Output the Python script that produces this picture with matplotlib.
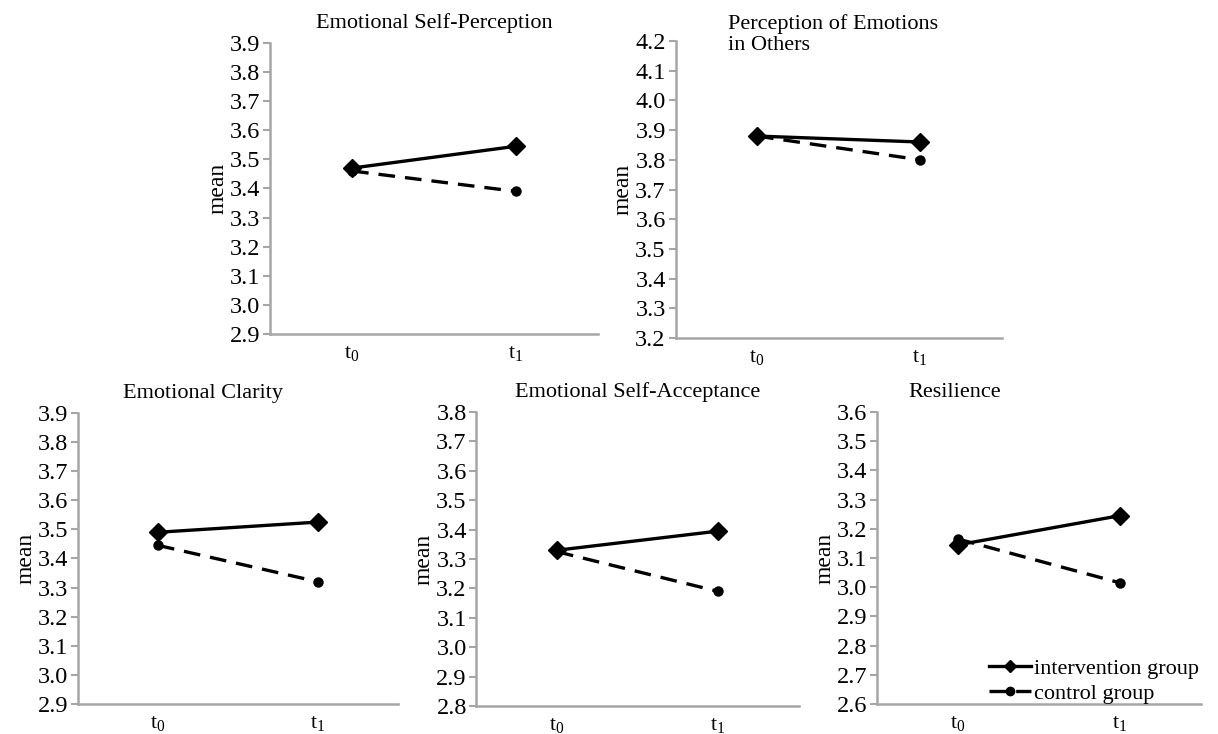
import matplotlib
matplotlib.use("Agg")
import matplotlib.pyplot as plt

plt.rcParams['font.family'] = ['Liberation Serif', 'DejaVu Serif']
plt.rcParams['mathtext.fontset'] = 'custom'
plt.rcParams['mathtext.rm'] = 'Liberation Serif'
plt.rcParams['mathtext.it'] = 'Liberation Serif'

categories = [r'$\mathrm{t}_0$', r'$\mathrm{t}_1$']

titles = ["Emotional Self-Perception",
          "Perception of Emotions\nin Others",
          "Emotional Clarity",
          "Emotional Self-Acceptance",
          "Resilience"]

intervention = [[3.47, 3.545],
                [3.88, 3.86],
                [3.49, 3.525],
                [3.33, 3.395],
                [3.145, 3.245]]

control = [[3.46, 3.39],
           [3.88, 3.80],
           [3.445, 3.32],
           [3.325, 3.19],
           [3.165, 3.015]]

y_ranges = [(2.9, 3.9), (3.2, 4.2), (2.9, 3.9), (2.8, 3.8), (2.6, 3.6)]

# axes positions in figure fraction [left, bottom, width, height]
positions = [[0.2217, 0.545, 0.2693, 0.3965],
             [0.5546, 0.5395, 0.2677, 0.4046],
             [0.0640, 0.0409, 0.2627, 0.3965],
             [0.3912, 0.0381, 0.2644, 0.4005],
             [0.7200, 0.0409, 0.2660, 0.3978]]

title_x = [0.5, 0.16, 0.39, 0.5, 0.24]

fig = plt.figure(figsize=(12.18, 7.34), dpi=100)
spine_color = '#a6a6a6'

for i in range(5):
    ax = fig.add_axes(positions[i])
    x = list(range(len(categories)))
    ax.plot(x, intervention[i], color='black', lw=2.4, marker='D', ms=9.5,
            label='intervention group', zorder=3)
    ax.plot(x, control[i], color='black', lw=2.4, ls=(0, (5, 3)), marker='o',
            ms=6.5, label='control group', zorder=2)
    lo, hi = y_ranges[i]
    ax.set_ylim(lo, hi)
    ticks = [round(lo + 0.1 * k, 1) for k in range(11)]
    ax.set_yticks(ticks)
    ax.set_yticklabels([f"{t:.1f}" for t in ticks], fontsize=17.5)
    ax.set_xlim(-0.5, 1.5)
    ax.set_xticks(x)
    ax.set_xticklabels(categories, fontsize=16)
    ax.tick_params(axis='x', length=0, pad=7)
    ax.tick_params(axis='y', length=5, width=1.5, color=spine_color, pad=2)
    for s in ['top', 'right']:
        ax.spines[s].set_visible(False)
    for s in ['left', 'bottom']:
        ax.spines[s].set_color(spine_color)
        ax.spines[s].set_linewidth(1.8)
    ax.set_ylabel('mean', fontsize=17, labelpad=1)
    if i == 1:
        ax.text(title_x[i], 1.09, titles[i], transform=ax.transAxes,
                fontsize=16, va='top', ha='left', linespacing=1.15)
    else:
        ax.text(title_x[i], 1.035, titles[i], transform=ax.transAxes,
                fontsize=16, va='bottom', ha='center')
    if i == 4:
        leg = ax.legend(loc='lower right', frameon=False, fontsize=16,
                        handlelength=1.9, handletextpad=0.1,
                        borderaxespad=0.0, labelspacing=0.2,
                        bbox_to_anchor=(1.02, -0.03))
        for h in leg.legend_handles:
            h.set_markersize(6)

fig.savefig('out.png', dpi=100)
